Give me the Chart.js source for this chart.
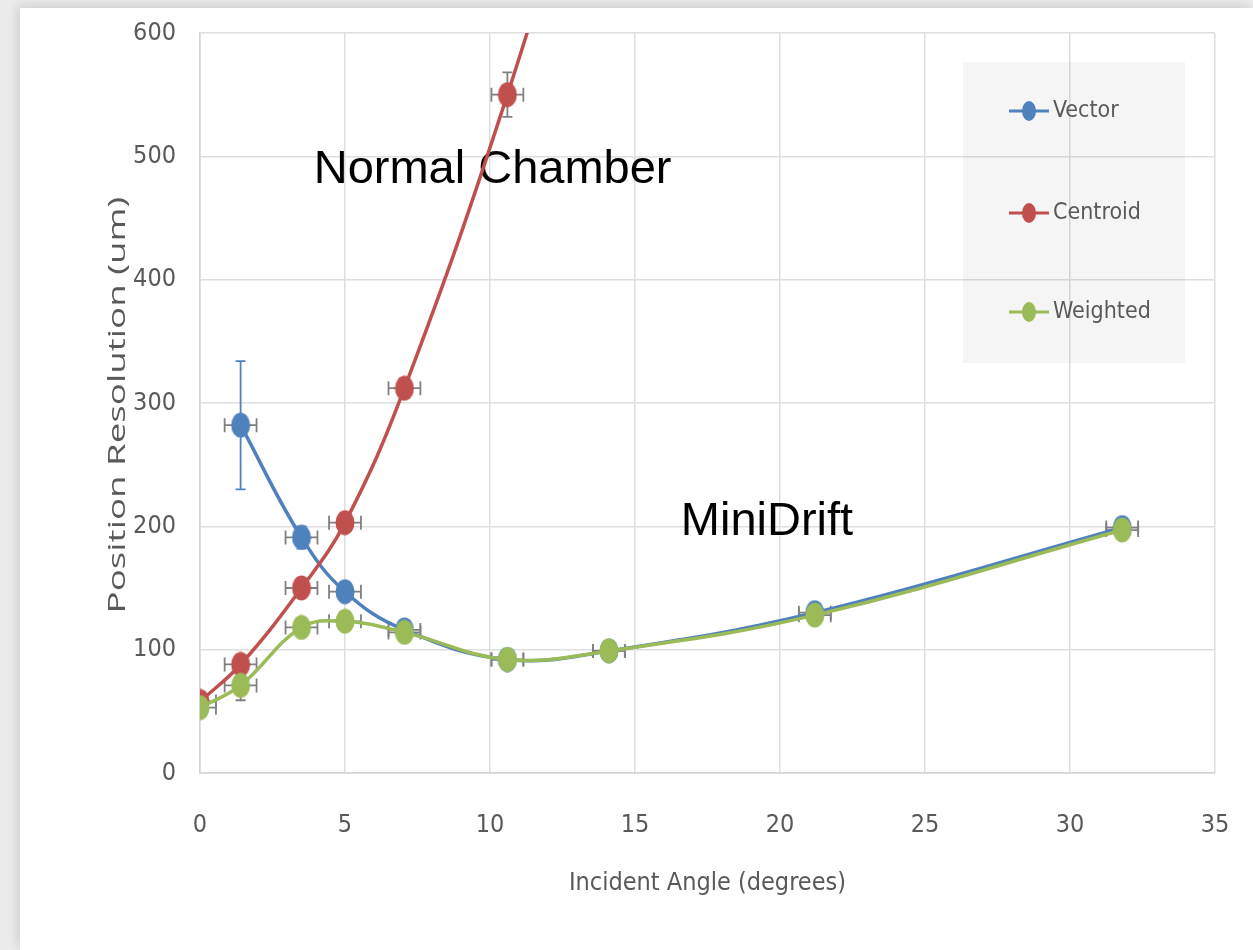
<!DOCTYPE html>
<html>
<head>
<meta charset="utf-8">
<script src="https://cdn.jsdelivr.net/npm/chart.js@4.4.0/dist/chart.umd.min.js"></script>
<style>
  html, body { margin: 0; padding: 0; background: #ececec; overflow: hidden; }
  #card { position: absolute; left: 20px; top: 8px; width: 1233px; height: 942px; background: #fff; box-shadow: -3px -3px 10px rgba(0,0,0,0.12); }
  #wrap { position: absolute; left: 0; top: 0; width: 1253px; height: 950px; }
</style>
</head>
<body>
<div id="card"></div>
<div id="wrap"><canvas id="chart"></canvas></div>
<script>
// incident angle (degrees) and its +/- error
const angles   = [0, 1.4, 3.5, 5, 7.05, 10.6, 14.1, 21.2, 31.8];
const angleErr = [0.55, 0.55, 0.55, 0.55, 0.55, 0.55, 0.55, 0.55, 0.55];

// position resolution (um) per method, with vertical errors
const vector      = [null, 282, 191, 147, 116, 92, 99, 130, 199];
const vectorErr   = [null, 52, 9, 6, 5, 4, 4, 5, 5];
const centroid    = [58, 88, 150, 203, 312, 550, 820];
const centroidErr = [4, 6, 7, 7, 8, 18, 20];
const weighted    = [53, 71, 118, 123, 114, 92, 99, 128, 197];
const weightedErr = [4, 12, 6, 5, 5, 4, 4, 5, 5];

const seriesNames = ['Vector', 'Centroid', 'Weighted'];
const xTicks = [0, 5, 10, 15, 20, 25, 30, 35];
const yTicks = [0, 100, 200, 300, 400, 500, 600];

const narrow = '"Liberation Sans Narrow", "DejaVu Sans Condensed", sans-serif';
const grey = '#595959';

function toPoints(vals, errs) {
  const pts = [];
  vals.forEach((v, i) => {
    if (v == null) return;
    pts.push({ x: angles[i], y: v, xErr: angleErr[i], yErr: errs[i] });
  });
  return pts;
}

// slightly tall oval markers like the original
function dot(color) {
  const c = document.createElement('canvas');
  c.width = 20; c.height = 26;
  const g = c.getContext('2d');
  g.fillStyle = color;
  g.beginPath();
  g.ellipse(10, 13, 9.5, 12.5, 0, 0, Math.PI * 2);
  g.fill();
  return c;
}

const colors = ['#4f81bd', '#c0504d', '#9bbb59'];
const errColors = ['#4f81bd', '#808080', '#808080'];

// legend box + text labels, drawn under the lines
const extras = {
  id: 'extras',
  beforeDatasetsDraw(chart) {
    const { ctx, chartArea, scales: { x, y } } = chart;
    ctx.save();
    // legend
    const bx = chartArea.right - 252, by = chartArea.top + 29;
    ctx.fillStyle = 'rgba(0,0,0,0.04)';
    ctx.fillRect(bx, by, 222, 301);
    const rows = [78, 180, 279];
    chart.data.datasets.forEach((ds, i) => {
      const ly = chartArea.top + rows[i];
      ctx.strokeStyle = ds.borderColor;
      ctx.lineWidth = 3;
      ctx.beginPath(); ctx.moveTo(bx + 46, ly); ctx.lineTo(bx + 86, ly); ctx.stroke();
      ctx.fillStyle = ds.borderColor;
      ctx.beginPath(); ctx.ellipse(bx + 66, ly, 7, 10, 0, 0, Math.PI * 2); ctx.fill();
      ctx.fillStyle = grey;
      ctx.font = '23px ' + narrow;
      ctx.textBaseline = 'middle';
      ctx.textAlign = 'left';
      ctx.fillText(ds.label, bx + 90, ly);
    });
    // annotations
    ctx.fillStyle = '#000';
    ctx.font = '47px "Liberation Sans", Arial, sans-serif';
    ctx.textAlign = 'center';
    ctx.textBaseline = 'alphabetic';
    ctx.fillText('Normal Chamber', x.getPixelForValue(10.09), y.getPixelForValue(478));
    ctx.fillText('MiniDrift', x.getPixelForValue(19.55), y.getPixelForValue(193));
    // y axis title, stretched along its length
    ctx.fillStyle = grey;
    ctx.font = '24px "Open Sans", sans-serif';
    ctx.translate(118, (chartArea.top + chartArea.bottom) / 2 + 2);
    ctx.rotate(-Math.PI / 2);
    ctx.scale(1.53, 1);
    ctx.textBaseline = 'middle';
    ctx.fillText('Position Resolution (um)', 0, 0);
    ctx.restore();
  }
};

const errorBars = {
  id: 'errorBars',
  beforeDatasetsDraw(chart) {
    const { ctx, chartArea, scales: { x, y } } = chart;
    ctx.save();
    ctx.beginPath();
    ctx.rect(chartArea.left, chartArea.top, chartArea.width, chartArea.height);
    ctx.clip();
    ctx.lineWidth = 1.8;
    chart.data.datasets.forEach((ds, i) => {
      ds.data.forEach(p => {
        const px = x.getPixelForValue(p.x), py = y.getPixelForValue(p.y);
        const x0 = x.getPixelForValue(p.x - p.xErr), x1 = x.getPixelForValue(p.x + p.xErr);
        ctx.strokeStyle = '#808080';
        ctx.beginPath();
        ctx.moveTo(x0, py); ctx.lineTo(x1, py);
        ctx.moveTo(x0, py - 7); ctx.lineTo(x0, py + 7);
        ctx.moveTo(x1, py - 7); ctx.lineTo(x1, py + 7);
        ctx.stroke();
        const y0 = y.getPixelForValue(p.y - p.yErr), y1 = y.getPixelForValue(p.y + p.yErr);
        ctx.strokeStyle = errColors[i];
        ctx.beginPath();
        ctx.moveTo(px, y0); ctx.lineTo(px, y1);
        ctx.moveTo(px - 5, y0); ctx.lineTo(px + 5, y0);
        ctx.moveTo(px - 5, y1); ctx.lineTo(px + 5, y1);
        ctx.stroke();
      });
    });
    ctx.restore();
  }
};

const seriesVals = [[vector, vectorErr], [centroid, centroidErr], [weighted, weightedErr]];

new Chart(document.getElementById('chart').getContext('2d'), {
  type: 'line',
  data: {
    datasets: seriesNames.map((name, i) => ({
      label: name,
      data: toPoints(seriesVals[i][0], seriesVals[i][1]),
      borderColor: colors[i],
      backgroundColor: colors[i],
      borderWidth: 3.5,
      tension: 0.4,
      pointStyle: dot(colors[i]),
      order: 2 - i
    }))
  },
  options: {
    responsive: true,
    maintainAspectRatio: false,
    animation: false,
    layout: { padding: { top: 33, right: 38, left: 0, bottom: 0 } },
    plugins: { legend: { display: false }, tooltip: { enabled: false } },
    scales: {
      x: {
        type: 'linear',
        min: xTicks[0],
        max: xTicks[xTicks.length - 1],
        afterBuildTicks: s => { s.ticks = xTicks.map(v => ({ value: v })); },
        afterFit: s => { s.height = 177; },
        grid: { color: '#dedede', lineWidth: 1.5, drawTicks: true, tickLength: 37, tickColor: 'rgba(0,0,0,0)' },
        border: { color: '#d4d4d4', width: 1.5 },
        ticks: { padding: 0, color: grey, font: { family: narrow, size: 25 } },
        title: {
          display: true,
          text: 'Incident Angle (degrees)',
          color: grey,
          font: { family: narrow, size: 25 },
          padding: { top: 0, bottom: 52 }
        }
      },
      y: {
        min: yTicks[0],
        max: yTicks[yTicks.length - 1],
        afterBuildTicks: s => { s.ticks = yTicks.map(v => ({ value: v })); },
        afterFit: s => { s.width = 200; },
        grid: { color: '#dedede', lineWidth: 1.5, drawTicks: true, tickLength: 24, tickColor: 'rgba(0,0,0,0)' },
        border: { color: '#d4d4d4', width: 1.5 },
        ticks: { padding: 0, color: grey, font: { family: narrow, size: 25 } }
      }
    }
  },
  plugins: [extras, errorBars]
});
</script>
</body>
</html>
